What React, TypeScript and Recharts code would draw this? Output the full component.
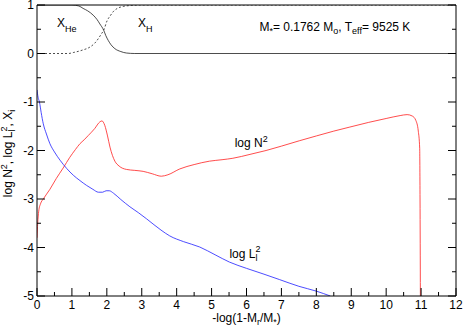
import { LineChart, Line, XAxis, YAxis, ReferenceDot, Label } from 'recharts';

// log N^2 (red)
const logN2: { x: number; y: number }[] = [
  { x: 0, y: -3.8 }, { x: 0.02, y: -3.5 }, { x: 0.05, y: -3.25 }, { x: 0.1, y: -3.1 },
  { x: 0.18, y: -3.0 }, { x: 0.37, y: -2.8 }, { x: 0.55, y: -2.58 }, { x: 0.75, y: -2.36 },
  { x: 0.94, y: -2.14 }, { x: 1.1, y: -1.98 }, { x: 1.23, y: -1.86 }, { x: 1.35, y: -1.78 },
  { x: 1.47, y: -1.69 }, { x: 1.65, y: -1.55 }, { x: 1.8, y: -1.41 }, { x: 1.86, y: -1.39 },
  { x: 1.94, y: -1.48 }, { x: 2.02, y: -1.7 }, { x: 2.09, y: -1.93 }, { x: 2.16, y: -2.1 },
  { x: 2.23, y: -2.22 }, { x: 2.35, y: -2.32 }, { x: 2.56, y: -2.39 }, { x: 2.8, y: -2.41 },
  { x: 3.04, y: -2.43 }, { x: 3.3, y: -2.48 }, { x: 3.56, y: -2.53 }, { x: 3.75, y: -2.5 },
  { x: 4.09, y: -2.38 }, { x: 4.5, y: -2.29 }, { x: 4.94, y: -2.22 }, { x: 5.3, y: -2.19 },
  { x: 5.61, y: -2.16 }, { x: 6.1, y: -2.08 }, { x: 6.56, y: -2.0 }, { x: 7.0, y: -1.91 },
  { x: 7.51, y: -1.8 }, { x: 8.0, y: -1.7 }, { x: 8.5, y: -1.6 }, { x: 8.94, y: -1.52 },
  { x: 9.5, y: -1.42 }, { x: 10.0, y: -1.34 }, { x: 10.4, y: -1.28 }, { x: 10.6, y: -1.26 },
  { x: 10.75, y: -1.29 }, { x: 10.85, y: -1.38 }, { x: 10.92, y: -1.6 }, { x: 10.96, y: -1.95 },
  { x: 10.97, y: -3.0 }, { x: 10.98, y: -5.0 },
];

// log L_l^2 (blue)
const logL2: { x: number; y: number }[] = [
  { x: 0, y: -0.75 }, { x: 0.03, y: -0.9 }, { x: 0.07, y: -1.0 }, { x: 0.12, y: -1.22 },
  { x: 0.18, y: -1.45 }, { x: 0.27, y: -1.66 }, { x: 0.37, y: -1.86 }, { x: 0.5, y: -2.03 },
  { x: 0.66, y: -2.2 }, { x: 0.85, y: -2.37 }, { x: 1.04, y: -2.51 }, { x: 1.23, y: -2.62 },
  { x: 1.42, y: -2.72 }, { x: 1.6, y: -2.8 }, { x: 1.76, y: -2.86 }, { x: 1.88, y: -2.86 },
  { x: 1.98, y: -2.83 }, { x: 2.07, y: -2.83 }, { x: 2.19, y: -2.88 }, { x: 2.4, y: -3.01 },
  { x: 2.66, y: -3.16 }, { x: 2.9, y: -3.28 }, { x: 3.14, y: -3.41 }, { x: 3.35, y: -3.53 },
  { x: 3.55, y: -3.64 }, { x: 3.8, y: -3.76 }, { x: 4.2, y: -3.88 }, { x: 4.66, y: -3.99 },
  { x: 5.1, y: -4.15 }, { x: 5.51, y: -4.3 }, { x: 6.0, y: -4.43 }, { x: 6.5, y: -4.55 },
  { x: 6.94, y: -4.66 }, { x: 7.5, y: -4.8 }, { x: 8.0, y: -4.9 }, { x: 8.4, y: -5.0 },
];

// X_He (solid black)
const xHe: { x: number; y: number }[] = [
  { x: 0, y: 1 }, { x: 1.0, y: 1 }, { x: 1.2, y: 0.98 }, { x: 1.32, y: 0.93 },
  { x: 1.45, y: 0.88 }, { x: 1.61, y: 0.79 }, { x: 1.72, y: 0.7 }, { x: 1.8, y: 0.61 },
  { x: 1.91, y: 0.48 }, { x: 1.97, y: 0.37 }, { x: 2.04, y: 0.27 }, { x: 2.12, y: 0.18 },
  { x: 2.23, y: 0.1 }, { x: 2.4, y: 0.04 }, { x: 2.56, y: 0.01 }, { x: 2.8, y: 0 },
  { x: 12, y: 0 },
];

// X_H (dashed black)
const xH: { x: number; y: number }[] = [
  { x: 0, y: 0 }, { x: 0.9, y: 0 }, { x: 1.04, y: 0.02 }, { x: 1.3, y: 0.07 },
  { x: 1.51, y: 0.13 }, { x: 1.65, y: 0.21 }, { x: 1.75, y: 0.3 }, { x: 1.84, y: 0.4 },
  { x: 1.91, y: 0.48 }, { x: 2.01, y: 0.68 }, { x: 2.1, y: 0.78 }, { x: 2.18, y: 0.86 },
  { x: 2.3, y: 0.93 }, { x: 2.47, y: 0.97 }, { x: 2.7, y: 0.99 }, { x: 3.0, y: 1 },
  { x: 12, y: 1 },
];

const xTicks = [0, 0.5, 1, 1.5, 2, 2.5, 3, 3.5, 4, 4.5, 5, 5.5, 6, 6.5, 7, 7.5, 8, 8.5, 9, 9.5, 10, 10.5, 11, 11.5, 12];
const yTicks = [-5, -4.5, -4, -3.5, -3, -2.5, -2, -1.5, -1, -0.5, 0, 0.5, 1];

const FONT = '"Liberation Sans", Arial, Helvetica, sans-serif';
const MAJOR = 8;
const MINOR = 4;

const isMajor = (v: number) => Number.isInteger(v);

const BottomTick = ({ x, y, payload }: any) => {
  const len = isMajor(payload.value) ? MAJOR : MINOR;
  return (
    <g>
      <line x1={x} y1={y} x2={x} y2={y - len} stroke="#000" />
      {isMajor(payload.value) && (
        <text x={x} y={y + 13} textAnchor="middle" fontSize={12} fontFamily={FONT} fill="#000">
          {payload.value}
        </text>
      )}
    </g>
  );
};

const TopTick = ({ x, y, payload }: any) => {
  const len = isMajor(payload.value) ? MAJOR : MINOR;
  return <line x1={x} y1={y} x2={x} y2={y + len} stroke="#000" />;
};

const LeftTick = ({ x, y, payload }: any) => {
  const len = isMajor(payload.value) ? MAJOR : MINOR;
  return (
    <g>
      <line x1={x} y1={y} x2={x + len} y2={y} stroke="#000" />
      {isMajor(payload.value) && (
        <text x={x - 3} y={y + 4} textAnchor="end" fontSize={12} fontFamily={FONT} fill="#000">
          {payload.value}
        </text>
      )}
    </g>
  );
};

const RightTick = ({ x, y, payload }: any) => {
  const len = isMajor(payload.value) ? MAJOR : MINOR;
  return <line x1={x} y1={y} x2={x - len} y2={y} stroke="#000" />;
};

const note = (content: React.ReactNode) => (p: any) => (
  <text x={p.cx} y={p.cy} fontSize={12} fontFamily={FONT} fill="#000">
    {content}
  </text>
);

export default function App() {
  return (
    <div style={{ width: 463, height: 327 }}>
      <style>{'body{margin:0}'}</style>
      <LineChart width={463} height={327} margin={{ top: 4, right: 6, bottom: 0, left: 0 }}>
        <XAxis
          xAxisId="b"
          type="number"
          dataKey="x"
          domain={[0, 12]}
          ticks={xTicks}
          interval={0}
          allowDataOverflow
          height={31}
          tickSize={0}
          tickMargin={0}
          tickLine={false}
          axisLine={{ stroke: '#000' }}
          tick={<BottomTick />}
        >
          <Label
            content={({ viewBox }: any) => (
              <text
                x={viewBox.x + viewBox.width / 2}
                y={viewBox.y + 26}
                textAnchor="middle"
                fontSize={12}
                fontFamily={FONT}
              >
                -log(1-M<tspan dy={3} fontSize={9}>r</tspan>
                <tspan dy={-3}>/M</tspan>
                <tspan dy={3} fontSize={9}>*</tspan>
                <tspan dy={-3}>)</tspan>
              </text>
            )}
          />
        </XAxis>
        <XAxis
          xAxisId="t"
          orientation="top"
          type="number"
          domain={[0, 12]}
          ticks={xTicks}
          interval={0}
          allowDataOverflow
          height={1}
          tickSize={0}
          tickMargin={0}
          tickLine={false}
          axisLine={{ stroke: '#000' }}
          tick={<TopTick />}
        />
        <YAxis
          yAxisId="l"
          type="number"
          domain={[-5, 1]}
          ticks={yTicks}
          interval={0}
          allowDataOverflow
          width={37}
          tickSize={0}
          tickMargin={0}
          tickLine={false}
          axisLine={{ stroke: '#000' }}
          tick={<LeftTick />}
        >
          <Label
            content={({ viewBox }: any) => {
              const cx = viewBox.x + 12;
              const cy = viewBox.y + viewBox.height / 2 + 3;
              return (
                <text
                  x={cx}
                  y={cy}
                  transform={`rotate(-90 ${cx} ${cy})`}
                  textAnchor="middle"
                  fontSize={12}
                  fontFamily={FONT}
                >
                  log N<tspan dy={-5} fontSize={9}>2</tspan>
                  <tspan dy={5}>, log L</tspan>
                  <tspan dy={3} fontSize={9}>l</tspan>
                  <tspan dy={-8} dx={-2} fontSize={9}>2</tspan>
                  <tspan dy={5}>, X</tspan>
                  <tspan dy={3} fontSize={9}>i</tspan>
                </text>
              );
            }}
          />
        </YAxis>
        <YAxis
          yAxisId="r"
          orientation="right"
          type="number"
          domain={[-5, 1]}
          ticks={yTicks}
          interval={0}
          allowDataOverflow
          width={1}
          tickSize={0}
          tickMargin={0}
          tickLine={false}
          axisLine={{ stroke: '#000' }}
          tick={<RightTick />}
        />

        <Line xAxisId="b" yAxisId="l" data={xHe} dataKey="y" type="monotone" stroke="#000" strokeWidth={0.7} dot={false} isAnimationActive={false} />
        <Line xAxisId="b" yAxisId="l" data={xH} dataKey="y" type="monotone" stroke="#000" strokeWidth={0.7} strokeDasharray="2 2" dot={false} isAnimationActive={false} />
        <Line xAxisId="b" yAxisId="l" data={logN2} dataKey="y" type="monotone" stroke="#ff2020" strokeWidth={0.8} dot={false} isAnimationActive={false} />
        <Line xAxisId="b" yAxisId="l" data={logL2} dataKey="y" type="monotone" stroke="#2020ff" strokeWidth={0.8} dot={false} isAnimationActive={false} />

        <ReferenceDot xAxisId="b" yAxisId="l" x={0.57} y={0.54} shape={note(<>X<tspan dy={5} fontSize={9}>He</tspan></>)} />
        <ReferenceDot xAxisId="b" yAxisId="l" x={2.89} y={0.54} shape={note(<>X<tspan dy={5} fontSize={9}>H</tspan></>)} />
        <ReferenceDot
          xAxisId="b"
          yAxisId="l"
          x={6.37}
          y={0.46}
          shape={note(
            <>
              M<tspan dy={3} fontSize={9}>*</tspan>
              <tspan dy={-3}>= 0.1762 M</tspan>
              <tspan dy={3} fontSize={9}>o</tspan>
              <tspan dy={-3}>, T</tspan>
              <tspan dy={3} fontSize={9}>eff</tspan>
              <tspan dy={-3}>= 9525 K</tspan>
            </>
          )}
        />
        <ReferenceDot xAxisId="b" yAxisId="l" x={5.66} y={-1.92} shape={note(<>log N<tspan dy={-5} fontSize={9}>2</tspan></>)} />
        <ReferenceDot
          xAxisId="b"
          yAxisId="l"
          x={5.51}
          y={-4.21}
          shape={note(
            <>
              log L<tspan dy={3} fontSize={9}>l</tspan>
              <tspan dy={-9} dx={-2} fontSize={9}>2</tspan>
            </>
          )}
        />
      </LineChart>
    </div>
  );
}
